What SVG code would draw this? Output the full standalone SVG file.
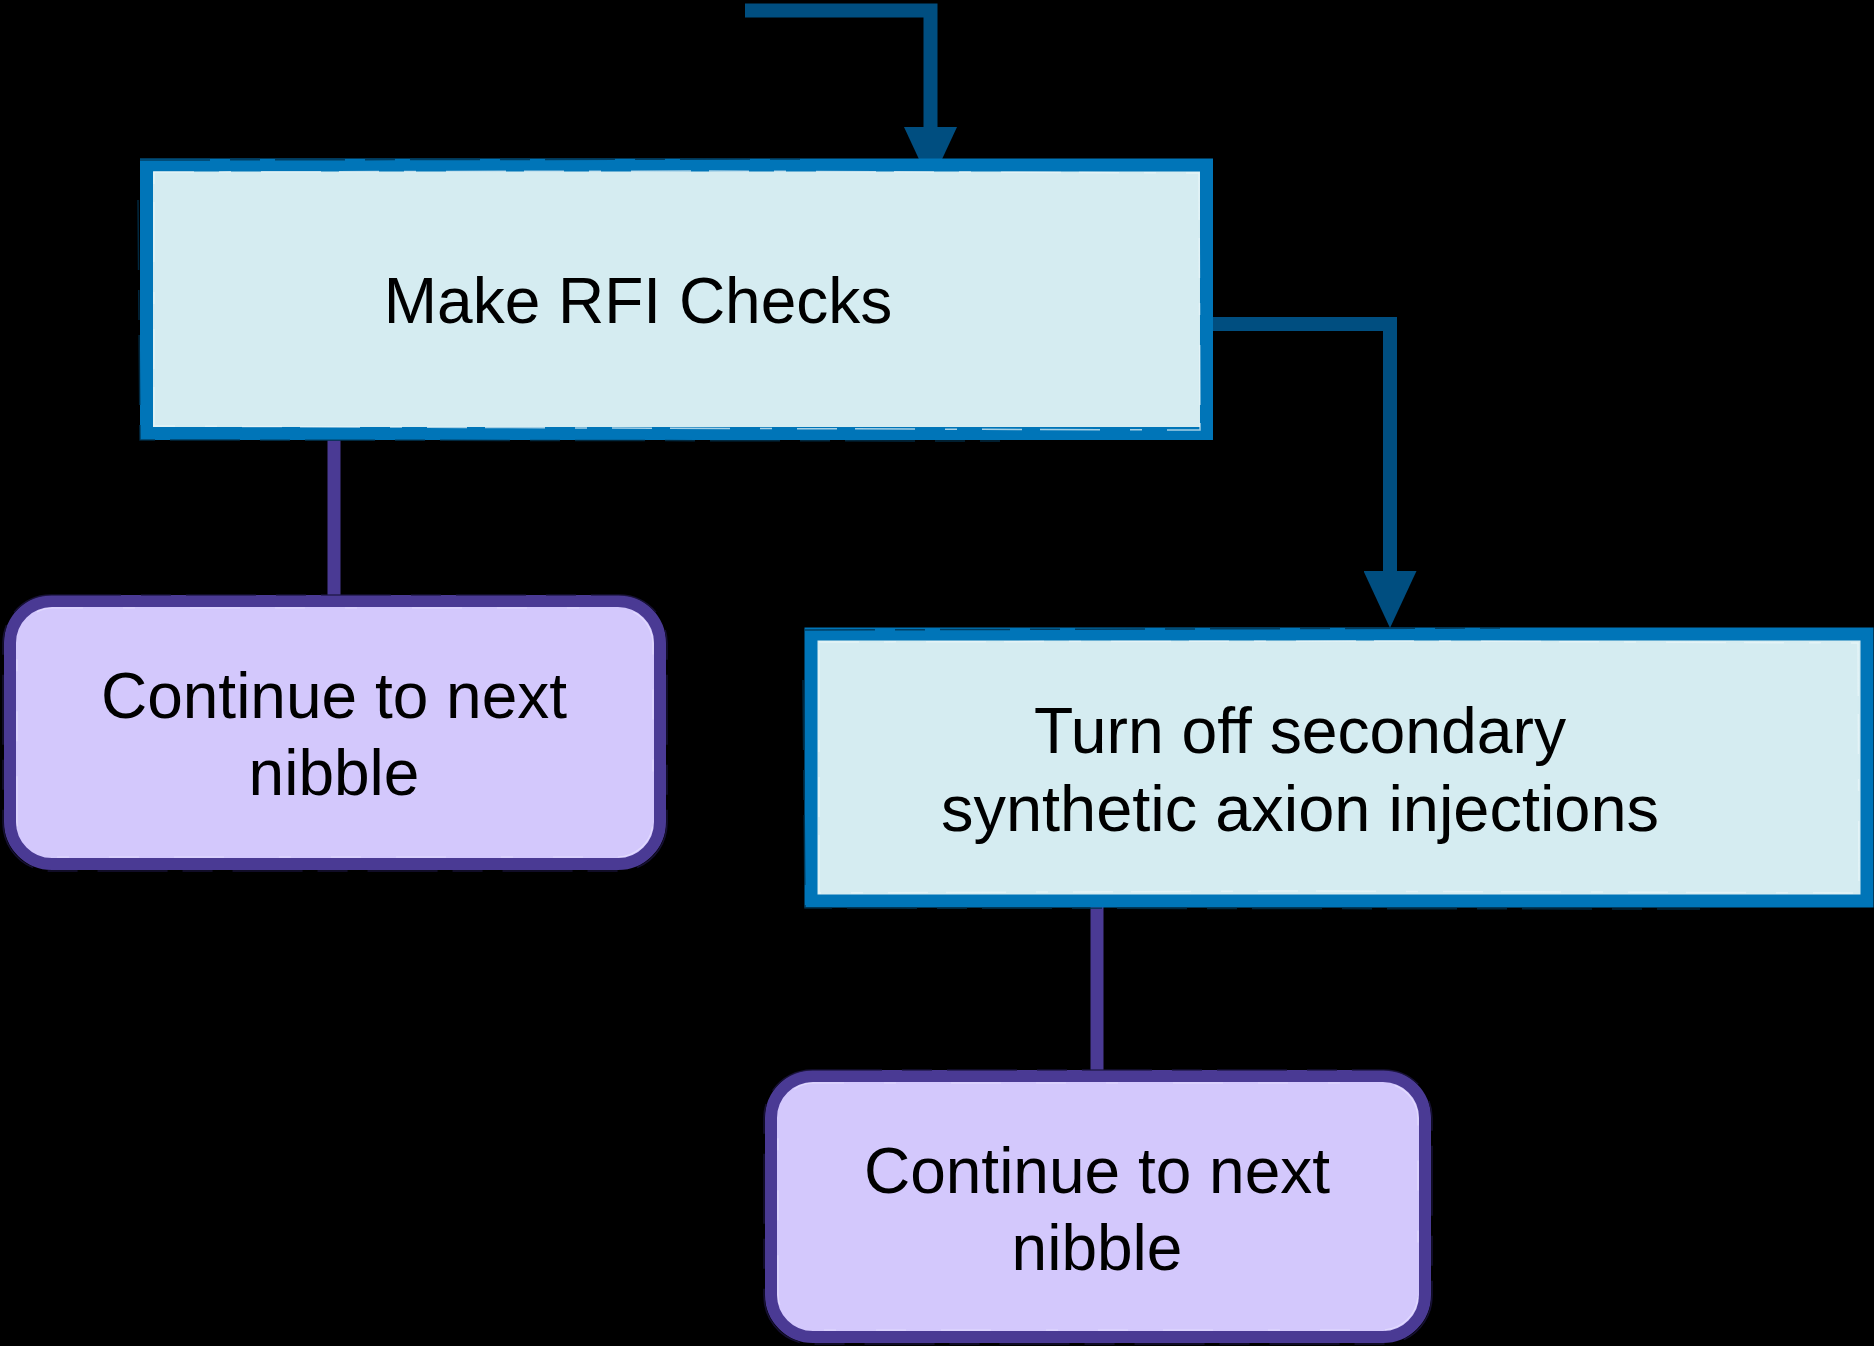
<svg xmlns="http://www.w3.org/2000/svg" width="1874" height="1346" viewBox="0 0 1874 1346">
  <style>
    .bg { fill: #000000; }
    .proc { fill: #d5ecf1; stroke: #0075b8; stroke-width: 13; }
    .proc-streak { fill: none; stroke: #e9f6f9; stroke-width: 1.5; stroke-dasharray: 40 25 12 30 60 18; opacity: 0.7; }
    .proc-edge { fill: none; stroke: #00324f; stroke-width: 1.5; stroke-dasharray: 70 20 30 15; opacity: 0.8; }
    .term { fill: #d3c8fc; stroke: #4a3a94; stroke-width: 12; }
    .term-streak { fill: none; stroke: #ece7ff; stroke-width: 1.2; stroke-dasharray: 30 40 12 55 50 35; opacity: 0.6; }
    .term-edge { fill: none; stroke: #1c1440; stroke-width: 1.5; stroke-dasharray: 70 20 30 15; opacity: 0.8; }
    .flow { fill: none; stroke: #004e80; stroke-width: 14; }
    .link { fill: none; stroke: #4a3a94; stroke-width: 13; }
    .label { font-family: "Liberation Sans", Arial, Helvetica, sans-serif; font-size: 64px; fill: #000000; text-anchor: middle; }
  </style>
  <defs>
    <marker id="arrow" viewBox="0 0 57 53" markerWidth="57" markerHeight="53" markerUnits="userSpaceOnUse" refX="1" refY="26.5" orient="auto">
      <path d="M0 0 L57 26.5 L0 53 Z" fill="#004e80"/>
    </marker>
  </defs>

  <rect class="bg" x="0" y="0" width="1874" height="1346"/>

  <!-- connectors -->
  <g id="connectors">
    <path class="flow" d="M745 10.5 H930.5 V128" marker-end="url(#arrow)"/>
    <path class="flow" d="M1213 324 H1390 V572" marker-end="url(#arrow)"/>
    <path class="link" d="M334 434 V602"/>
    <path class="link" d="M1097 900 V1078"/>
  </g>

  <!-- Make RFI Checks -->
  <g id="make-rfi-checks">
    <rect class="proc" x="146.5" y="165" width="1060" height="268.5"/>
    <path class="proc-streak" d="M154 172 L700 171 L1199 173 L1200 430 L600 428 L154 426 Z"/>
    <path class="proc-edge" d="M140 160 L800 159 M138 200 L140 440 L1000 441"/>
    <text class="label" x="638" y="323">Make RFI Checks</text>
  </g>

  <!-- Turn off secondary synthetic axion injections -->
  <g id="turn-off-injections">
    <rect class="proc" x="811" y="634" width="1056" height="267"/>
    <path class="proc-streak" d="M819 642 L1400 641 L1858 643 L1859 893 L1300 891 L819 893 Z"/>
    <path class="proc-edge" d="M805 630 L1500 628 M803 680 L805 908 L1700 909"/>
    <text class="label" x="1300" y="753" textLength="532" lengthAdjust="spacingAndGlyphs">Turn off secondary</text>
    <text class="label" x="1300" y="831" textLength="718" lengthAdjust="spacingAndGlyphs">synthetic axion injections</text>
  </g>

  <!-- Continue to next nibble (left) -->
  <g id="continue-left">
    <rect class="term" x="10" y="601" width="650" height="263" rx="42" ry="42"/>
    <rect class="term-streak" x="17" y="608" width="636" height="249" rx="36" ry="36"/>
    <rect class="term-edge" x="3" y="595" width="664" height="276" rx="48" ry="48"/>
    <text class="label" x="334" y="718">Continue to next</text>
    <text class="label" x="334" y="795">nibble</text>
  </g>

  <!-- Continue to next nibble (right) -->
  <g id="continue-right">
    <rect class="term" x="771" y="1076" width="654" height="261" rx="42" ry="42"/>
    <rect class="term-streak" x="778" y="1083" width="640" height="247" rx="36" ry="36"/>
    <rect class="term-edge" x="764" y="1070" width="668" height="274" rx="48" ry="48"/>
    <text class="label" x="1097" y="1193">Continue to next</text>
    <text class="label" x="1097" y="1270">nibble</text>
  </g>
</svg>
